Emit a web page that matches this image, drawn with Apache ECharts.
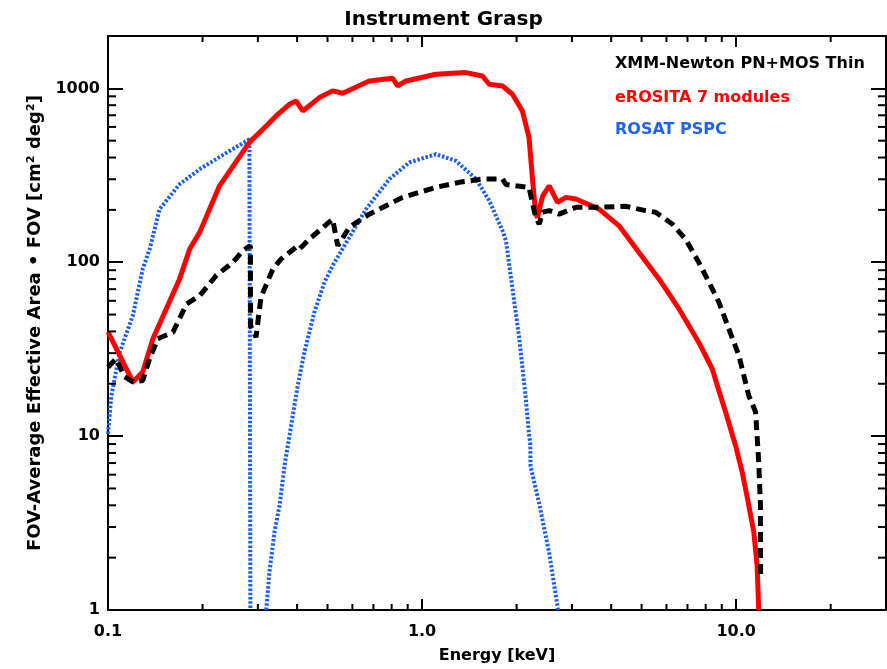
<!DOCTYPE html>
<html>
<head>
<meta charset="utf-8">
<script src="https://cdn.jsdelivr.net/npm/echarts@6/dist/echarts.min.js"></script>
<style>
html,body{margin:0;padding:0;background:#fff;}
#chart{width:887px;height:669px;}
</style>
</head>
<body>
<div id="chart"></div>
<script>
// ---- Data (energy in keV, grasp in cm^2 deg^2) ----
const seriesNames = ['XMM-Newton PN+MOS Thin', 'eROSITA 7 modules', 'ROSAT PSPC'];

const erositaE = [0.100, 0.120, 0.129, 0.139, 0.169, 0.182, 0.196, 0.2265, 0.282, 0.319, 0.343, 0.378, 0.397, 0.417, 0.471, 0.519, 0.559, 0.679, 0.806, 0.836, 0.889, 1.107, 1.379, 1.557, 1.636, 1.803, 1.94, 2.087, 2.19, 2.245, 2.30, 2.33, 2.42, 2.54, 2.70, 2.87, 3.09, 3.66, 4.24, 4.90, 5.68, 6.58, 7.60, 8.39, 8.91, 9.25, 9.95, 10.45, 10.97, 11.38, 11.66, 11.8];
const erositaA = [39.8, 20.5, 23.4, 36.3, 80.2, 119, 149, 275, 489, 608, 694, 810, 847, 741, 885, 967, 937, 1103, 1143, 1032, 1103, 1205, 1232, 1178, 1056, 1032, 925, 741, 522, 307, 190, 181, 240, 275, 221, 236, 231, 202, 162, 114, 80.2, 53.9, 34.7, 24.4, 17.1, 13.8, 8.86, 6.23, 4.01, 2.82, 1.81, 1.0];

const xmmE = [0.100, 0.106, 0.113, 0.120, 0.129, 0.1357, 0.144, 0.161, 0.178, 0.196, 0.221, 0.250, 0.269, 0.284, 0.2845, 0.296, 0.307, 0.335, 0.356, 0.397, 0.405, 0.438, 0.519, 0.539, 0.587, 0.679, 0.867, 1.107, 1.313, 1.557, 1.803, 1.85, 1.99, 2.19, 2.30, 2.36, 2.42, 2.54, 2.73, 3.09, 3.66, 4.43, 5.15, 5.54, 6.26, 6.90, 7.60, 8.19, 8.81, 9.48, 10.2, 10.97, 11.53, 11.8, 11.95, 11.96];
const xmmA = [24.9, 27.9, 21.9, 20.5, 20.9, 27.9, 36.3, 39.6, 57.6, 64.3, 83.8, 100, 116.7, 124.5, 43, 37.1, 63, 91.5, 104.5, 122, 118, 136, 177, 124.5, 159, 189, 236, 269.5, 288, 301, 301, 280, 275, 269.5, 181, 166, 194, 198, 189, 207, 207, 210, 198, 194, 166, 136, 100, 76.8, 58.9, 41.4, 29.1, 17.1, 13.8, 7.11, 4.01, 1.59];

const rosatE = [0.100, 0.1025, 0.109, 0.120, 0.129, 0.1357, 0.146, 0.169, 0.196, 0.243, 0.282, 0.284, 0.30, 0.319, 0.3267, 0.339, 0.352, 0.365, 0.383, 0.402, 0.422, 0.454, 0.489, 0.519, 0.566, 0.663, 0.787, 0.911, 1.107, 1.282, 1.484, 1.636, 1.803, 1.85, 1.96, 2.04, 2.14, 2.19, 2.21, 2.215, 2.36, 2.54, 2.71];
const rosatA = [10.3, 17.1, 30.4, 49.4, 91.5, 119, 202, 281, 343, 435, 509, 1, null, 1, 1.66, 2.82, 4.01, 6.80, 11.5, 19.6, 30.4, 51.6, 76.8, 95.6, 124.5, 202, 301, 375, 418, 383, 301, 226, 152, 133, 61.4, 36.2, 16.4, 10.3, 9.06, 6.7, 4.1, 2.12, 1];

const xMin = 0.1, xMax = 30, yMin = 1, yMax = 2000;
const xTickLabels = {0.1: '0.1', 1: '1.0', 10: '10.0'};

// minor tick positions (log decades)
const xMinor = [];
[0.1, 1, 10].forEach(d => { for (let k = 2; k <= 9; k++) { const v = +(k * d).toPrecision(3); if (v < xMax) xMinor.push(v); } });
const yMinor = [];
[1, 10, 100, 1000].forEach(d => { for (let k = 2; k <= 9; k++) { const v = k * d; if (v < yMax) yMinor.push(v); } });

const zip = (a, b) => a.map((v, i) => [v, b[i] === null ? null : b[i]]);

const FONT = 'DejaVu Sans';
const labelStyle = {fontFamily: FONT, fontWeight: 'bold', fontSize: 16, color: '#000'};

const chart = echarts.init(document.getElementById('chart'), null, {renderer: 'canvas'});
chart.setOption({
  animation: false,
  backgroundColor: '#fff',
  title: {
    text: 'Instrument Grasp',
    left: 'center',
    top: 5,
    textStyle: {fontFamily: FONT, fontWeight: 'bold', fontSize: 20, color: '#000'}
  },
  grid: {left: 108, right: 1, top: 36, bottom: 57},
  xAxis: [
    {
      type: 'log', logBase: 10, min: xMin, max: xMax, position: 'bottom',
      name: 'Energy [keV]', nameLocation: 'middle', nameGap: 38,
      nameTextStyle: labelStyle,
      axisLine: {lineStyle: {color: '#000', width: 2}},
      axisTick: {inside: true, length: 11, lineStyle: {color: '#000', width: 2}},
      axisLabel: Object.assign({margin: 14, showMaxLabel: false,
        formatter: v => { const r = +v.toPrecision(3); return xTickLabels[r] || ''; }}, labelStyle),
      splitLine: {show: false}
    },
    {
      type: 'log', logBase: 10, min: xMin, max: xMax, position: 'top',
      axisLine: {lineStyle: {color: '#000', width: 2}},
      axisTick: {inside: true, length: 11, lineStyle: {color: '#000', width: 2}},
      axisLabel: {show: false},
      splitLine: {show: false}
    }
  ],
  yAxis: [
    {
      type: 'log', logBase: 10, min: yMin, max: yMax, position: 'left',
      name: 'FOV-Average Effective Area \u2022 FOV [cm\u00B2 deg\u00B2]', nameLocation: 'middle', nameGap: 62,
      nameTextStyle: Object.assign({}, labelStyle, {fontSize: 18}),
      axisLine: {lineStyle: {color: '#000', width: 2}},
      axisTick: {inside: true, length: 15, lineStyle: {color: '#000', width: 2}},
      axisLabel: Object.assign({margin: 8, showMaxLabel: false,
        formatter: v => String(Math.round(v))}, labelStyle),
      splitLine: {show: false}
    },
    {
      type: 'log', logBase: 10, min: yMin, max: yMax, position: 'right',
      axisLine: {lineStyle: {color: '#000', width: 2}},
      axisTick: {inside: true, length: 15, lineStyle: {color: '#000', width: 2}},
      axisLabel: {show: false},
      splitLine: {show: false}
    }
  ],
  graphic: [
    {type: 'text', x: 615, y: 64, style: {text: seriesNames[0], fill: '#000', font: 'bold 16px "DejaVu Sans"', verticalAlign: 'middle'}},
    {type: 'text', x: 615, y: 98, style: {text: seriesNames[1], fill: '#ff0000', font: 'bold 16px "DejaVu Sans"', verticalAlign: 'middle'}},
    {type: 'text', x: 615, y: 130, style: {text: seriesNames[2], fill: '#1f63f0', font: 'bold 16px "DejaVu Sans"', verticalAlign: 'middle'}}
  ],
  series: [
    {
      name: seriesNames[2], type: 'line', data: zip(rosatE, rosatA), showSymbol: false, symbol: 'none',
      connectNulls: false, z: 2,
      lineStyle: {color: '#1a5ff5', width: 4, type: [2.5, 1.8], cap: 'butt'}
    },
    {
      name: seriesNames[1], type: 'line', data: zip(erositaE, erositaA), showSymbol: false, symbol: 'none', z: 3,
      lineStyle: {color: '#ff0000', width: 5}
    },
    {
      name: seriesNames[0], type: 'line', data: zip(xmmE, xmmA), showSymbol: false, symbol: 'none', z: 4,
      lineStyle: {color: '#000', width: 5, type: [10, 6], cap: 'butt'}
    },
    {
      type: 'custom', silent: true, z: 5, clip: false,
      data: xMinor.map(v => [v, yMin]),
      renderItem: (params, api) => {
        const v = api.value(0);
        const b = api.coord([v, yMin]);
        const t = api.coord([v, yMax]);
        const st = {stroke: '#000', lineWidth: 2};
        return {type: 'group', children: [
          {type: 'line', shape: {x1: b[0], y1: b[1], x2: b[0], y2: b[1] - 6}, style: st},
          {type: 'line', shape: {x1: t[0], y1: t[1], x2: t[0], y2: t[1] + 6}, style: st}
        ]};
      }
    },
    {
      type: 'custom', silent: true, z: 5, clip: false,
      data: yMinor.map(v => [xMin, v]),
      renderItem: (params, api) => {
        const v = api.value(1);
        const l = api.coord([xMin, v]);
        const r = api.coord([xMax, v]);
        const st = {stroke: '#000', lineWidth: 2};
        return {type: 'group', children: [
          {type: 'line', shape: {x1: l[0], y1: l[1], x2: l[0] + 8, y2: l[1]}, style: st},
          {type: 'line', shape: {x1: r[0], y1: r[1], x2: r[0] - 8, y2: r[1]}, style: st}
        ]};
      }
    }
  ]
});
</script>
</body>
</html>
